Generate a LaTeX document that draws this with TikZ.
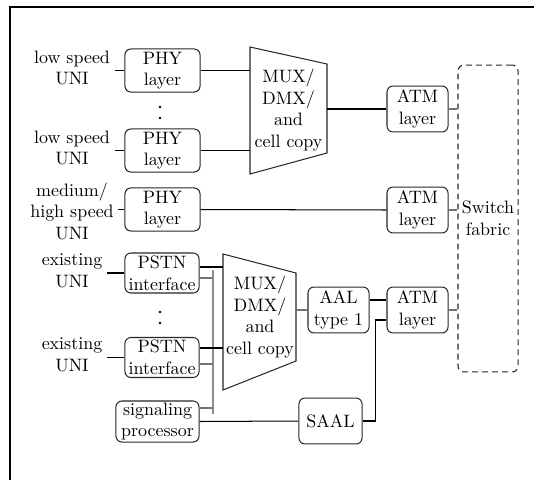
\documentclass[tikz,border=0pt]{standalone}
\usetikzlibrary{calc}
\begin{document}
\begin{tikzpicture}[x=0.59pt,y=-0.59pt,
  line width=0.6pt,
  every node/.style={font=\fontsize{10.6}{12.7}\selectfont},
  box/.style={draw=black!85, rounded corners=3.5pt, align=center, inner sep=1pt},
  phybox/.style={box, minimum width=44.3pt, minimum height=25.4pt},
  atmbox/.style={box, minimum width=36pt, minimum height=27.1pt},
  pstnbox/.style={box, minimum width=43.7pt, minimum height=23.6pt},
  lbl/.style={align=center, inner sep=2.5pt},
  dim/.style={draw=black!55},
  bus/.style={draw=black!45, line width=1.2pt},
  dotmark/.style={circle, fill=black, inner sep=0pt, minimum size=1.7pt}
]
\useasboundingbox (0,0) rectangle (534,480);

% outer frame
\draw[line width=1.2pt] (10,480) -- (10,7) -- (534,7);

% switch fabric
\node[box, dashed, dash pattern=on 3.5pt off 2.4pt, minimum width=35.4pt, minimum height=181.1pt] (sw) at (488,218.5) {Switch\\fabric};

% low speed UNIs
\node[lbl] (lab1) at (72,68) {low speed\\UNI};
\node[lbl] (lab2) at (72,148) {low speed\\UNI};
\node[lbl] (lab3) at (72,211) {medium/\\high speed\\UNI};
\node[phybox] (phy1) at (162.5,70.5) {PHY\\layer};
\node[phybox] (phy2) at (162.5,150.5) {PHY\\layer};
\node[phybox] (phy3) at (162.5,209.5) {PHY\\layer};
\node[dotmark] (d1a) at (160,107) {};
\node[dotmark] (d1b) at (160,118) {};

% upper multiplexer
\coordinate (m1tl) at (250,47);
\coordinate (m1tr) at (327,64);
\coordinate (m1br) at (327,153);
\coordinate (m1bl) at (250,174);
\draw[draw=black!85] (m1tl) -- (m1tr) -- (m1br) -- (m1bl) -- cycle;
\node[lbl] (mux1) at (288.5,110) {MUX/\\DMX/\\and\\cell copy};

% ATM layers
\node[atmbox] (atm1) at (417.5,109) {ATM\\layer};
\node[atmbox] (atm2) at (417.5,210) {ATM\\layer};
\node[atmbox] (atm3) at (417.5,310) {ATM\\layer};

% existing UNIs
\node[lbl] (lab4) at (72,271) {existing\\UNI};
\node[lbl] (lab5) at (72,355) {existing\\UNI};
\node[pstnbox] (pstn1) at (162,273) {PSTN\\interface};
\node[pstnbox] (pstn2) at (162,357.5) {PSTN\\interface};
\node[dotmark] (d2a) at (160,312) {};
\node[dotmark] (d2b) at (160,323) {};
\node[box, minimum width=49pt, minimum height=24.2pt] (sig) at (157.5,421.5) {signaling\\processor};

% lower multiplexer
\coordinate (m2tl) at (223,254);
\coordinate (m2tr) at (296,273);
\coordinate (m2br) at (296,361);
\coordinate (m2bl) at (223,390);
\draw[draw=black!85] (m2tl) -- (m2tr) -- (m2br) -- (m2bl) -- cycle;
\node[lbl] (mux2) at (260,317) {MUX/\\DMX/\\and\\cell copy};

\node[atmbox] (aal) at (338.5,310) {AAL\\type 1};
\node[box, minimum width=37.2pt, minimum height=27.1pt] (saal) at (330.5,421) {SAAL};

% signalling bus
\coordinate (bt) at (213,270);
\coordinate (bb) at (213,414);
\draw[bus] (bt) -- (bb);

% connectors
\draw (phy1.west) -- (phy1.west -| lab1.east);
\draw (phy2.west) -- (phy2.west -| lab2.east);
\draw (phy3.west) -- (phy3.west -| lab3.east);
\draw (pstn1.west) -- (pstn1.west -| lab4.east);
\draw (pstn2.west) -- (pstn2.west -| lab5.east);

\draw (phy1.east) -- (phy1.east -| m1tl);
\draw (phy2.east) -- (phy2.east -| m1tl);
\draw (atm1.west) -- (atm1.west -| m1tr);
\draw (phy3.east) -- (atm2.west);

\draw[dim] (atm1.east) -- (atm1.east -| sw.west);
\draw[dim] (atm2.east) -- (atm2.east -| sw.west);
\draw[dim] (atm3.east) -- (atm3.east -| sw.west);

\draw ($(pstn1.east)+(0,-6)$) coordinate (p1u) -- (p1u -| m2tl);
\draw[dim] ($(pstn1.east)+(0,5)$) coordinate (p1l) -- (p1l -| bt);
\draw ($(pstn2.east)+(0,-9.5)$) coordinate (p2u) -- (p2u -| m2tl);
\draw[dim] ($(pstn2.east)+(0,6.5)$) coordinate (p2l) -- (p2l -| bt);
\draw[dim] ($(sig.east)+(0,-13.5)$) coordinate (su) -- (su -| bt);
\draw (sig.east) -- (saal.west);

\draw[dim] (aal.west) -- (aal.west -| m2tr);
\draw ($(aal.east)+(0,-10)$) coordinate (a1) -- (a1 -| atm3.west);
\coordinate (jn) at ($(atm3.west)+(-11,10)$);
\draw (saal.east) -| (jn) -- (jn -| atm3.west);
\end{tikzpicture}
\end{document}
